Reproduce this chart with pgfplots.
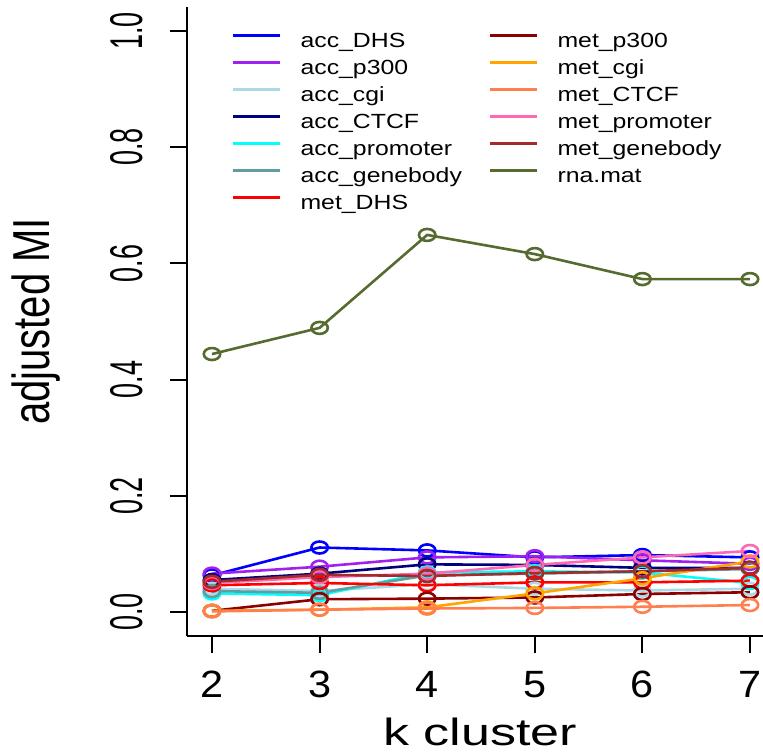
\documentclass[border=0pt]{standalone}
\usepackage{fontspec}
\setmainfont{Liberation Sans}
\usepackage{pgfplots}
\usepackage{pgfplotstable}
\pgfplotsset{compat=1.18}
\definecolor{cblue}{HTML}{0000FF}
\definecolor{cpurple}{HTML}{A020F0}
\definecolor{clightblue}{HTML}{ADD8E6}
\definecolor{cnavy}{HTML}{000080}
\definecolor{ccyan}{HTML}{00FFFF}
\definecolor{ccadet}{HTML}{5F9EA0}
\definecolor{cred}{HTML}{FF0000}
\definecolor{cdarkred}{HTML}{8B0000}
\definecolor{corange}{HTML}{FFA500}
\definecolor{ccoral}{HTML}{FF7F50}
\definecolor{chotpink}{HTML}{FF69B4}
\definecolor{cbrown}{HTML}{A52A2A}
\definecolor{colive}{HTML}{556B2F}
\newcommand{\hs}[1]{\scalebox{1.21}[1]{#1}}
\newcommand{\xs}[1]{\scalebox{1.09}[1]{#1}}
\newcommand{\ytl}[1]{\scalebox{1}[1.7]{#1}}
\pgfplotstableread{
k accDHS accpt acccgi accCTCF accprom accgene metDHS metpt metcgi metCTCF metprom metgene rna
2 0.063 0.066 0.040 0.055 0.032 0.036 0.046 0.002 0.002 0.001 0.050 0.052 0.444
3 0.111 0.078 0.036 0.066 0.029 0.033 0.050 0.022 0.004 0.004 0.060 0.064 0.489
4 0.106 0.094 0.048 0.082 0.068 0.063 0.046 0.023 0.008 0.006 0.066 0.062 0.649
5 0.094 0.096 0.040 0.081 0.070 0.066 0.051 0.025 0.032 0.007 0.081 0.067 0.616
6 0.098 0.089 0.037 0.076 0.068 0.070 0.051 0.031 0.058 0.009 0.094 0.070 0.573
7 0.094 0.083 0.040 0.076 0.050 0.074 0.054 0.034 0.087 0.012 0.105 0.076 0.573
}\mydata
\begin{document}
\begin{tikzpicture}
\begin{axis}[
  scale only axis,
  width=576pt, height=629pt,
  xmin=1.7677, xmax=7.121,
  ymin=-0.0413, ymax=1.0413,
  axis lines=left,
  axis line style={-, line width=2pt, black},
  clip=false,
  tick align=outside,
  major tick length=17pt,
  tick style={line width=2pt, black},
  xtick={2,3,4,5,6,7},
  xticklabels={\xs{2},\xs{3},\xs{4},\xs{5},\xs{6},\xs{7}},
  ytick={0,0.2,0.4,0.6,0.8,1.0},
  yticklabels={\ytl{0.0},\ytl{0.2},\ytl{0.4},\ytl{0.6},\ytl{0.8},\ytl{1.0}},
  xticklabel style={font=\fontsize{38}{42}\selectfont, anchor=base, inner sep=0pt, yshift=-44pt},
  yticklabel style={font=\fontsize{27}{30}\selectfont, rotate=90, anchor=base, inner sep=0pt, yshift=27pt},
  xlabel={\scalebox{1.37}[1]{k cluster}},
  xlabel style={font=\fontsize{38}{42}\selectfont, at={(axis description cs:0.5,0)}, anchor=base, inner sep=0pt, yshift=-110pt, xshift=5pt},
  ylabel={\scalebox{1}[1.3]{adjusted MI}},
  ylabel style={font=\fontsize{40}{44}\selectfont, at={(axis description cs:0,0.5)}, anchor=base, inner sep=0pt, yshift=137pt},
  every axis plot/.append style={line width=2.6pt, mark=o, mark size=6pt, mark options={xscale=1.37, solid}},
  legend columns=2,
  legend image code/.code={\draw[#1, line width=2.6pt] (0pt,7pt) -- (47pt,7pt);},
  legend style={draw=none, fill=none, inner sep=0pt, outer sep=0pt,
    at={(axis description cs:0.0781,0.959)}, anchor=north west,
    font=\fontsize{20.5}{24}\selectfont,
    nodes={inner sep=0pt, text height=15pt, text depth=4pt},
    row sep=8pt,
    /tikz/every odd column/.append style={column sep=19pt},
    /tikz/every even column/.append style={column sep=27pt}},
  legend cell align=left,
]
\addplot[cblue, forget plot] table[x=k,y=accDHS]{\mydata};
\addplot[cpurple, forget plot] table[x=k,y=accpt]{\mydata};
\addplot[clightblue, forget plot] table[x=k,y=acccgi]{\mydata};
\addplot[cnavy, forget plot] table[x=k,y=accCTCF]{\mydata};
\addplot[ccyan, forget plot] table[x=k,y=accprom]{\mydata};
\addplot[ccadet, forget plot] table[x=k,y=accgene]{\mydata};
\addplot[cred, forget plot] table[x=k,y=metDHS]{\mydata};
\addplot[cdarkred, forget plot] table[x=k,y=metpt]{\mydata};
\addplot[corange, forget plot] table[x=k,y=metcgi]{\mydata};
\addplot[ccoral, forget plot] table[x=k,y=metCTCF]{\mydata};
\addplot[chotpink, forget plot] table[x=k,y=metprom]{\mydata};
\addplot[cbrown, forget plot] table[x=k,y=metgene]{\mydata};
\addplot[colive, forget plot] table[x=k,y=rna]{\mydata};
\addlegendimage{cblue}\addlegendentry{\hs{acc\_DHS}}
\addlegendimage{cdarkred}\addlegendentry{\hs{met\_p300}}
\addlegendimage{cpurple}\addlegendentry{\hs{acc\_p300}}
\addlegendimage{corange}\addlegendentry{\hs{met\_cgi}}
\addlegendimage{clightblue}\addlegendentry{\hs{acc\_cgi}}
\addlegendimage{ccoral}\addlegendentry{\hs{met\_CTCF}}
\addlegendimage{cnavy}\addlegendentry{\hs{acc\_CTCF}}
\addlegendimage{chotpink}\addlegendentry{\hs{met\_promoter}}
\addlegendimage{ccyan}\addlegendentry{\hs{acc\_promoter}}
\addlegendimage{cbrown}\addlegendentry{\hs{met\_genebody}}
\addlegendimage{ccadet}\addlegendentry{\hs{acc\_genebody}}
\addlegendimage{colive}\addlegendentry{\hs{rna.mat}}
\addlegendimage{cred}\addlegendentry{\hs{met\_DHS}}
\end{axis}
\pgfresetboundingbox
\path (current axis.south west) ++(-187pt,-118pt) rectangle ++(763pt,754pt);
\end{tikzpicture}
\end{document}
